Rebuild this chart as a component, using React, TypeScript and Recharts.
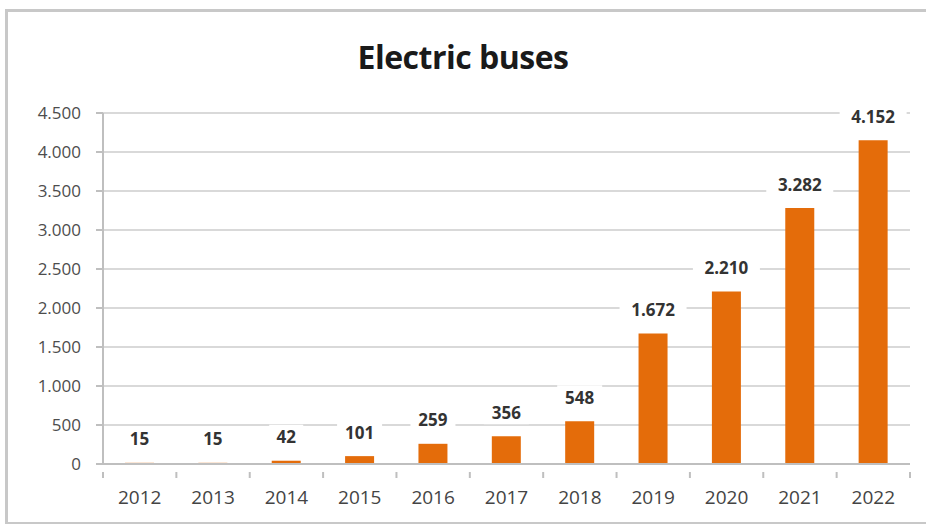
import React from "react";
import {
  BarChart,
  Bar,
  XAxis,
  YAxis,
  CartesianGrid,
  LabelList,
} from "recharts";

const years = ["2012", "2013", "2014", "2015", "2016", "2017", "2018", "2019", "2020", "2021", "2022"];
const buses = [15, 15, 42, 101, 259, 356, 548, 1672, 2210, 3282, 4152];
const yTicks = [0, 500, 1000, 1500, 2000, 2500, 3000, 3500, 4000, 4500];

const data = years.map((year, i) => ({ year, buses: buses[i] }));

const W = 926;
const H = 524;
const M = { top: 113, right: 16, left: 0, bottom: 20 };
const Y_AXIS_W = 103;
const X_AXIS_H = 40;
const STEP = (W - M.right - Y_AXIS_W) / years.length;

const fmt = (v: number) => v.toLocaleString("de-DE");

const FONT = "'Open Sans', 'Liberation Sans', sans-serif";

function YearTick(props: { x?: number; y?: number; index?: number; payload?: { value: string } }) {
  const { x = 0, y = 0, index = 0, payload } = props;
  return (
    <g>
      <line x1={x - STEP / 2} x2={x - STEP / 2} y1={y} y2={y + 6} stroke="#bfbfbf" strokeWidth={2} />
      {index === years.length - 1 && (
        <line x1={x + STEP / 2} x2={x + STEP / 2} y1={y} y2={y + 6} stroke="#bfbfbf" strokeWidth={2} />
      )}
      <text
        x={x}
        y={y + 25}
        textAnchor="middle"
        dominantBaseline="central"
        fill="#444444"
        fontSize={19}
        fontFamily={FONT}
      >
        {payload?.value}
      </text>
    </g>
  );
}

function ValueLabel(props: { x?: number; y?: number; width?: number; value?: number }) {
  const { x = 0, y = 0, width = 0, value = 0 } = props;
  const cx = Number(x) + Number(width) / 2;
  const cy = Number(y) - 24;
  const text = fmt(Number(value));
  const bw = text.length * 11 + 12;
  return (
    <g>
      <rect x={cx - bw / 2} y={cy - 12} width={bw} height={24} fill="#ffffff" />
      <text
        x={cx}
        y={cy}
        textAnchor="middle"
        dominantBaseline="central"
        fill="#333333"
        fontSize={17}
        fontWeight={700}
        fontFamily={FONT}
      >
        {text}
      </text>
    </g>
  );
}

export default function App() {
  return (
    <div
      style={{
        position: "absolute",
        left: 0,
        top: 0,
        width: W,
        height: H,
        background: "#ffffff",
      }}
    >
      <div
        style={{
          position: "absolute",
          left: 5,
          top: 9,
          width: W - 5,
          height: H - 14,
          borderLeft: "3px solid #c8c8c8",
          borderTop: "3px solid #c8c8c8",
          borderBottom: "3px solid #c8c8c8",
        }}
      />
      <div
        style={{
          position: "absolute",
          left: 0,
          width: W,
          top: 36,
          textAlign: "center",
          fontFamily: FONT,
          fontWeight: 700,
          fontSize: 32,
          color: "#1a1a1a",
          lineHeight: "42px",
          letterSpacing: -0.5,
        }}
      >
        Electric buses
      </div>
      <div style={{ position: "absolute", left: 0, top: 0 }}>
        <BarChart width={W} height={H} data={data} margin={M}>
          <CartesianGrid vertical={false} stroke="#d9d9d9" strokeWidth={2} />
          <XAxis
            dataKey="year"
            height={X_AXIS_H}
            axisLine={{ stroke: "#bfbfbf", strokeWidth: 2 }}
            tickLine={false}
            tick={<YearTick />}
            interval={0}
          />
          <YAxis
            width={Y_AXIS_W}
            domain={[0, 4500]}
            ticks={yTicks}
            interval={0}
            axisLine={{ stroke: "#bfbfbf", strokeWidth: 2 }}
            tickLine={{ stroke: "#bfbfbf", strokeWidth: 2 }}
            tickSize={7}
            tickMargin={15}
            tickFormatter={(v) => fmt(v)}
            tick={{ fill: "#4d4d4d", fontSize: 17, fontFamily: FONT }}
          />
          <Bar dataKey="buses" fill="#e46c0a" barSize={29} isAnimationActive={false}>
            <LabelList dataKey="buses" content={<ValueLabel />} />
          </Bar>
        </BarChart>
      </div>
    </div>
  );
}
